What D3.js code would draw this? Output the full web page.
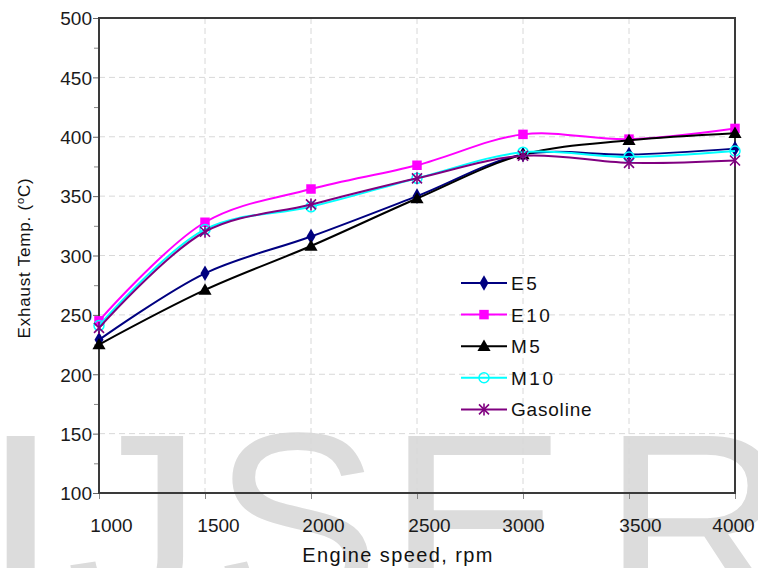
<!DOCTYPE html>
<html lang="en">
<head>
  <meta charset="utf-8">
  <script src="https://d3js.org/d3.v7.min.js"></script>
  <style>
    body { margin: 0; background: #fff; }
    svg { display: block; font-family: "Liberation Sans", Arial, sans-serif; }
    .tick-label { font-size: 19px; fill: #1a1a1a; }
    .grid line { stroke: #d8d8d8; stroke-dasharray: 6,4; stroke-width: 1; }
    .frame { fill: none; stroke: #3a3a3a; stroke-width: 2; }
    .series { fill: none; stroke-width: 2; }
  </style>
</head>
<body>
  <svg id="chart" width="758" height="568"></svg>
  <script>
    // engine speed (rpm)
    const speeds = [1000, 1500, 2000, 2500, 3000, 3500, 4000];
    const yTicks = [100, 150, 200, 250, 300, 350, 400, 450, 500];

    // exhaust temperature (degC) per fuel
    const e5       = [229, 285, 316, 350, 385, 385, 390];
    const e10      = [245, 328, 356, 376, 402, 398, 407];
    const m5       = [225, 271, 308, 348, 385, 397, 403];
    const m10      = [241, 322, 341, 365, 387, 383, 388];
    const gasoline = [239, 320, 343, 365, 384, 378, 380];

    const seriesNames = ["E5", "E10", "M5", "M10", "Gasoline"];
    const seriesValues = [e5, e10, m5, m10, gasoline];
    const seriesColors = ["#000080", "#ff00ff", "#000000", "#00ffff", "#800080"];
    const seriesMarkers = ["diamond", "square", "triangle", "circle", "star"];

    // the x tick labels sit a little right of their ticks in the original
    const xLabelShift = [12, 13, 12, 12, 0, 11, -2];

    const margin = {top: 18, right: 23, bottom: 75, left: 99},
          width = 758 - margin.left - margin.right,
          height = 568 - margin.top - margin.bottom;

    const svg = d3.select("#chart");

    // watermark behind everything (big grey letters cut by the bottom edge)
    const wmSize = 250;
    const wm = svg.append("g").attr("fill", "#dcdcdc")
      .style("font-family", "'Liberation Sans', Arial, sans-serif")
      .style("font-size", wmSize + "px");
    const wmLetters = [
      {ch: "I", x: -21, sx: 1.2},
      {ch: "J", x: 66, sx: 1.1},
      {ch: "S", x: 213, sx: 1.0},
      {ch: "E", x: 386, sx: 1.09},
      {ch: "R", x: 602, sx: 1.05}
    ];
    const capTop = 429;
    wmLetters.forEach(l => {
      wm.append("text")
        .attr("transform", `translate(${l.x},${capTop + 0.716 * wmSize}) scale(${l.sx},1)`)
        .text(l.ch);
    });

    const g = svg.append("g").attr("transform", `translate(${margin.left},${margin.top})`);

    const x = d3.scaleLinear().domain([1000, 4000]).range([0, width]);
    const y = d3.scaleLinear().domain([100, 500]).range([height, 0]);

    // grid
    g.append("g").attr("class", "grid")
      .selectAll("line").data(speeds.slice(1, -1)).join("line")
      .attr("x1", d => x(d)).attr("x2", d => x(d))
      .attr("y1", 0).attr("y2", height);
    g.append("g").attr("class", "grid")
      .selectAll("line").data(yTicks.slice(1, -1)).join("line")
      .attr("x1", 0).attr("x2", width)
      .attr("y1", d => y(d)).attr("y2", d => y(d));

    // axes
    const yAxis = g.append("g")
      .call(d3.axisLeft(y).tickValues(yTicks).tickSize(6).tickPadding(1));
    yAxis.select(".domain").remove();
    yAxis.selectAll("line").attr("stroke", "#666");
    yAxis.selectAll("text").attr("class", "tick-label").attr("font-family", null).attr("font-size", null)
      .attr("dy", "0.36em");
    g.append("g")
      .call(d3.axisLeft(y).tickValues(d3.range(125, 500, 50)).tickSize(5).tickFormat(""))
      .call(a => a.select(".domain").remove())
      .selectAll("line").attr("stroke", "#888");

    const xAxis = g.append("g").attr("transform", `translate(0,${height})`)
      .call(d3.axisBottom(x).tickValues(speeds).tickSize(6).tickPadding(20).tickFormat(d3.format("d")));
    xAxis.select(".domain").remove();
    xAxis.selectAll("line").attr("stroke", "#888");
    xAxis.selectAll("text").attr("class", "tick-label").attr("font-family", null).attr("font-size", null)
      .attr("dx", (d, i) => xLabelShift[i]);

    g.append("rect").attr("class", "frame").attr("width", width).attr("height", height);

    // axis titles
    svg.append("text")
      .attr("transform", `translate(30,258) rotate(-90)`)
      .attr("text-anchor", "middle")
      .style("font-size", "17px").style("letter-spacing", "0.8px").attr("fill", "#111")
      .html('Exhaust Temp. (<tspan dy="-6" font-size="11px">o</tspan><tspan dy="6">C)</tspan>');
    svg.append("text")
      .attr("x", 398).attr("y", 562)
      .attr("text-anchor", "middle")
      .style("font-size", "20px").style("letter-spacing", "1.4px").attr("fill", "#111")
      .text("Engine speed, rpm");

    function drawMarker(sel, type, color, cx, cy) {
      if (type === "diamond") {
        sel.append("path").attr("d", d3.symbol(d3.symbolDiamond, 70)())
          .attr("transform", `translate(${cx},${cy})`).attr("fill", color);
      } else if (type === "square") {
        sel.append("path").attr("d", d3.symbol(d3.symbolSquare, 90)())
          .attr("transform", `translate(${cx},${cy})`).attr("fill", color);
      } else if (type === "triangle") {
        sel.append("path").attr("d", d3.symbol(d3.symbolTriangle, 75)())
          .attr("transform", `translate(${cx},${cy + 1})`).attr("fill", color);
      } else if (type === "circle") {
        sel.append("circle").attr("cx", cx).attr("cy", cy).attr("r", 5)
          .attr("fill", "none").attr("stroke", color).attr("stroke-width", 1.5);
      } else {
        const s = sel.append("g").attr("transform", `translate(${cx},${cy})`)
          .attr("stroke", color).attr("stroke-width", 1.6);
        s.append("line").attr("x1", -5).attr("y1", -5).attr("x2", 5).attr("y2", 5);
        s.append("line").attr("x1", -5).attr("y1", 5).attr("x2", 5).attr("y2", -5);
        s.append("line").attr("x1", 0).attr("y1", -6).attr("x2", 0).attr("y2", 6);
      }
    }

    const line = d3.line()
      .x((d, i) => x(speeds[i]))
      .y(d => y(d))
      .curve(d3.curveCatmullRom.alpha(0.5));

    seriesValues.forEach((vals, si) => {
      const sg = g.append("g");
      sg.append("path").attr("class", "series")
        .attr("d", line(vals)).attr("stroke", seriesColors[si]);
      vals.forEach((v, i) => drawMarker(sg, seriesMarkers[si], seriesColors[si], x(speeds[i]), y(v)));
    });

    // legend
    const legend = svg.append("g").attr("transform", "translate(461,283)");
    seriesNames.forEach((name, i) => {
      const row = legend.append("g").attr("transform", `translate(0,${i * 31.6})`);
      row.append("line").attr("x1", 0).attr("x2", 46).attr("stroke", seriesColors[i]).attr("stroke-width", 2);
      drawMarker(row, seriesMarkers[i], seriesColors[i], 23, 0);
      row.append("text").attr("x", 50).attr("y", 7)
        .style("font-size", "19px").style("letter-spacing", name === "Gasoline" ? "0.8px" : "2.5px")
        .attr("fill", "#111").text(name);
    });
  </script>
</body>
</html>
